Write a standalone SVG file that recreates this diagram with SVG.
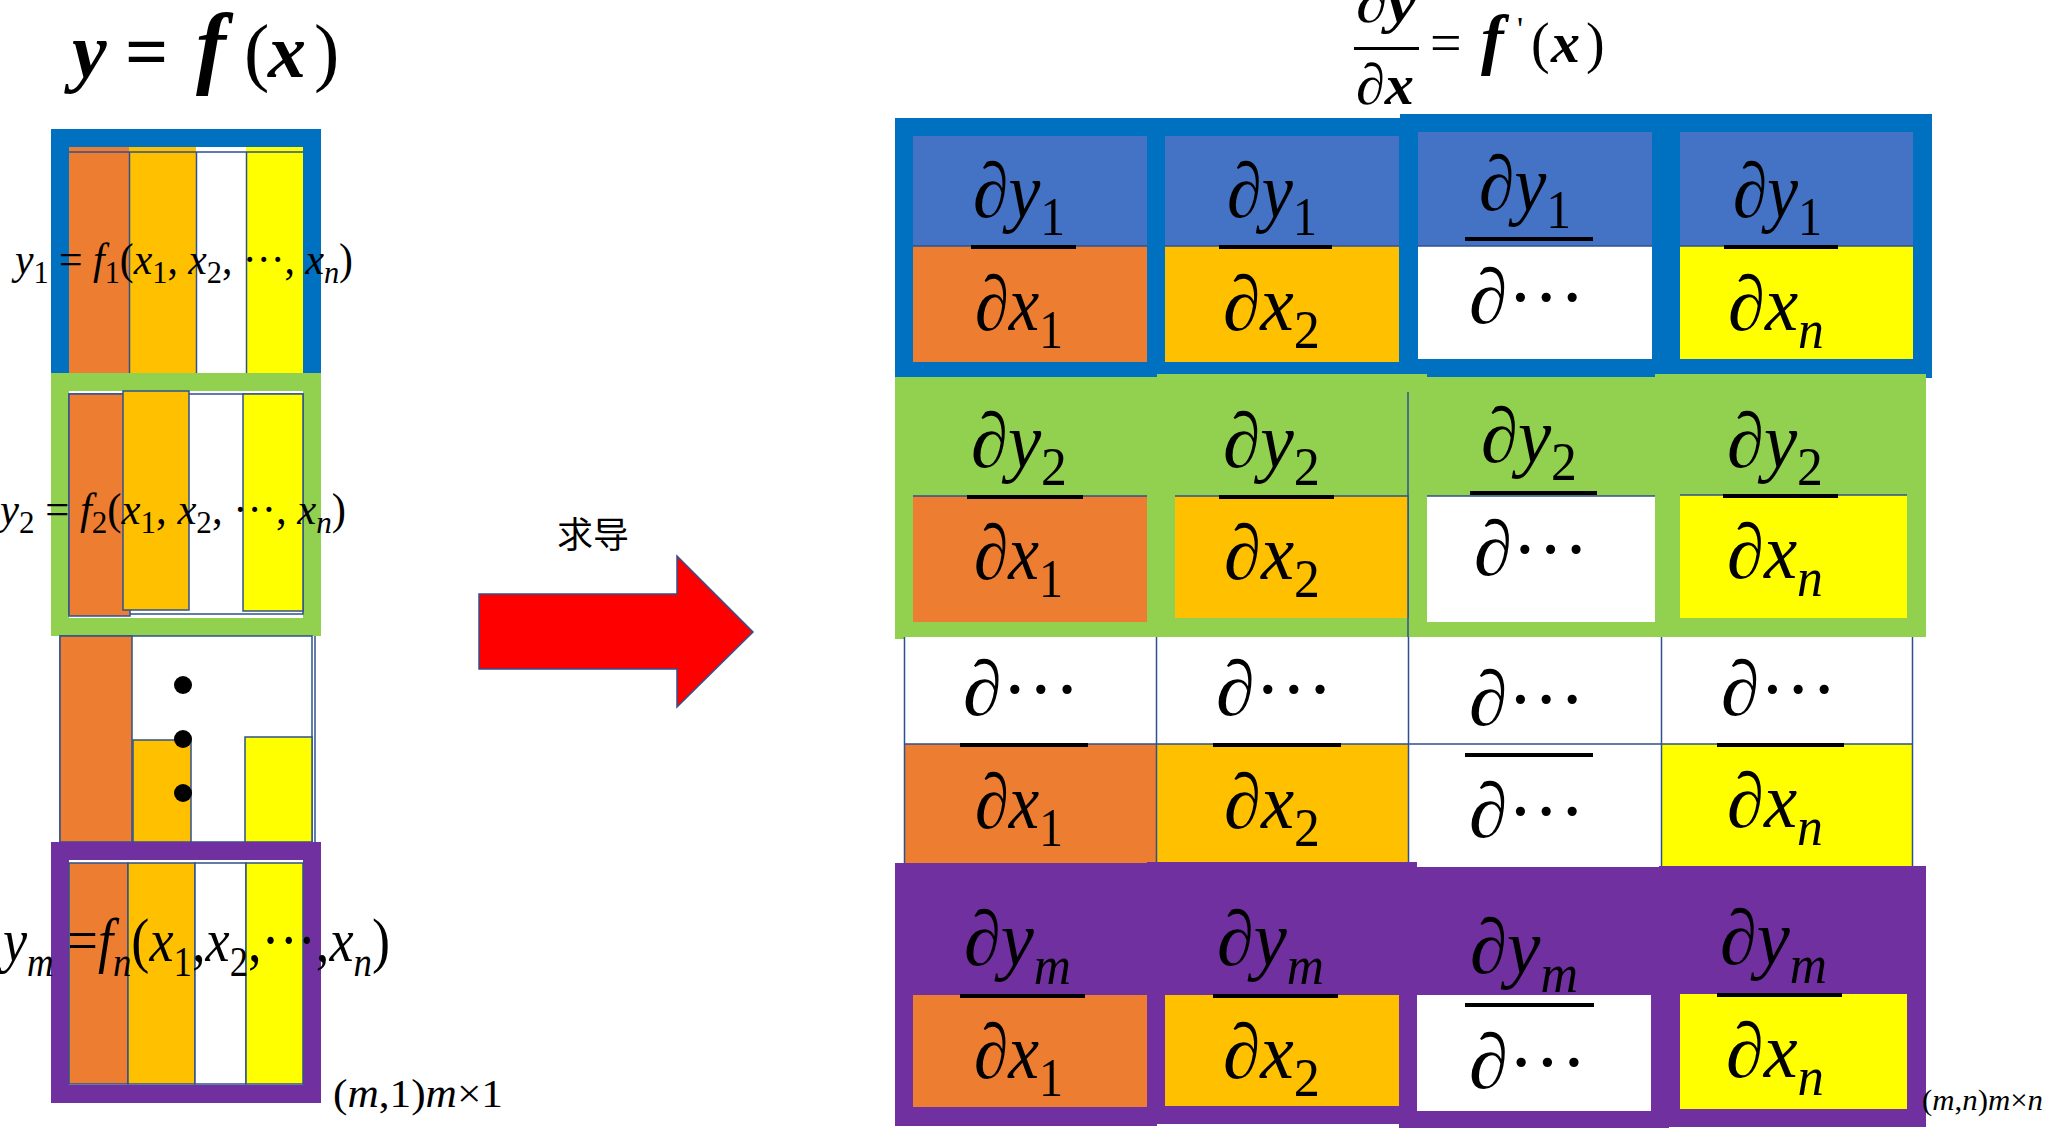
<svg xmlns="http://www.w3.org/2000/svg" width="2048" height="1140" viewBox="0 0 2048 1140">
<style>
.t{font-family:"Liberation Serif","DejaVu Serif",serif;fill:#000}
.fr{font-family:"Liberation Serif","DejaVu Serif",serif;font-size:78px;fill:#000}
.i{font-style:italic}
.b{font-weight:bold}
.sb{font-size:54px}
.ln{stroke:#2F528F;stroke-width:1.5;fill:none}
.o{fill:#ED7D31}.oy{fill:#FFC000}.ye{fill:#FFFF00}.wh{fill:#FFFFFF}.bt{fill:#4472C4}
.fb{fill:#0070C0}.fg{fill:#92D050}.fp{fill:#7030A0}
.bar{fill:#000}
</style>
<rect width="2048" height="1140" fill="#FFFFFF"/>

<!-- Titles -->
<g id="title-left">
<text class="t i b" x="72" y="77" font-size="78">y</text>
<text class="t b" x="125" y="77" font-size="76">=</text>
<text class="t i b" x="196" y="77" font-size="90">f</text>
<text class="t" x="244" y="77" font-size="76">(</text>
<text class="t i b" x="268" y="77" font-size="76">x</text>
<text class="t" x="314" y="77" font-size="76">)</text>
</g>
<g id="title-right">
<text class="t" x="1356" y="22" font-size="58" textLength="60" lengthAdjust="spacingAndGlyphs">∂<tspan class="i b">y</tspan></text>
<rect class="bar" x="1354" y="47" width="65" height="3"/>
<text class="t" x="1356" y="104" font-size="58" textLength="58" lengthAdjust="spacingAndGlyphs">∂<tspan class="i b">x</tspan></text>
<text class="t" x="1430" y="62" font-size="56">=</text>
<text class="t i b" x="1481" y="62" font-size="68">f</text>
<text class="t" x="1517" y="40" font-size="34">'</text>
<text class="t" x="1531" y="62" font-size="56">(</text>
<text class="t i b" x="1551" y="62" font-size="58">x</text>
<text class="t" x="1586" y="62" font-size="56">)</text>
</g>

<!-- Left column: y = f(x) vector -->
<g id="row-y1">
<rect class="fb" x="51" y="129" width="270" height="244"/>
<rect class="o" x="69" y="147" width="60" height="226"/>
<rect class="oy" x="129" y="147" width="67" height="226"/>
<rect class="wh" x="196" y="147" width="50" height="226"/>
<rect class="ye" x="246" y="147" width="57" height="226"/>
<path class="ln" d="M69 152H303M129.5 152V373M196.5 152V373M246.5 152V373"/>
<text class="t" x="15" y="274" font-size="44" textLength="338" lengthAdjust="spacingAndGlyphs"><tspan class="i">y</tspan><tspan font-size="32" dy="9">1</tspan><tspan dy="-9"> = </tspan><tspan class="i">f</tspan><tspan font-size="32" dy="9">1</tspan><tspan dy="-9">(</tspan><tspan class="i">x</tspan><tspan font-size="32" dy="9">1</tspan><tspan dy="-9">, </tspan><tspan class="i">x</tspan><tspan font-size="32" dy="9">2</tspan><tspan dy="-9">, ···, </tspan><tspan class="i">x</tspan><tspan class="i" font-size="32" dy="9">n</tspan><tspan dy="-9">)</tspan></text>
</g>

<g id="row-y2">
<rect class="fg" x="51" y="373" width="270" height="263"/>
<rect class="wh" x="69" y="391" width="234" height="227"/>
<rect class="wh ln" x="69" y="394" width="234" height="220"/>
<rect class="o ln" x="69" y="394" width="61" height="222"/>
<rect class="oy ln" x="123" y="391" width="66" height="219"/>
<rect class="ye ln" x="243" y="394" width="60" height="217"/>
<text class="t" x="0" y="524" font-size="44" textLength="346" lengthAdjust="spacingAndGlyphs"><tspan class="i">y</tspan><tspan font-size="32" dy="9">2</tspan><tspan dy="-9"> = </tspan><tspan class="i">f</tspan><tspan font-size="32" dy="9">2</tspan><tspan dy="-9">(</tspan><tspan class="i">x</tspan><tspan font-size="32" dy="9">1</tspan><tspan dy="-9">, </tspan><tspan class="i">x</tspan><tspan font-size="32" dy="9">2</tspan><tspan dy="-9">, ···, </tspan><tspan class="i">x</tspan><tspan class="i" font-size="32" dy="9">n</tspan><tspan dy="-9">)</tspan></text>
</g>

<g id="row-dots">
<rect class="wh ln" x="60" y="636" width="252" height="206"/>
<path class="ln" d="M315 636V842"/>
<rect class="o ln" x="60" y="636" width="72" height="206"/>
<rect class="oy ln" x="133" y="740" width="58" height="102"/>
<rect class="ye ln" x="245" y="737" width="67" height="105"/>
<circle cx="183" cy="685" r="9" fill="#000"/>
<circle cx="183" cy="739" r="9" fill="#000"/>
<circle cx="183" cy="793" r="9" fill="#000"/>
</g>

<g id="row-ym">
<rect class="fp" x="51" y="842" width="270" height="261"/>
<rect class="wh" x="69" y="860" width="234" height="225"/>
<rect class="o ln" x="69" y="863" width="59" height="221"/>
<rect class="oy ln" x="128" y="863" width="67" height="221"/>
<rect class="wh ln" x="195" y="863" width="51" height="221"/>
<rect class="ye ln" x="246" y="863" width="57" height="221"/>
<text class="t" x="3" y="961" font-size="62" textLength="387" lengthAdjust="spacingAndGlyphs"><tspan class="i">y</tspan><tspan class="i" font-size="42" dy="15">m</tspan><tspan dy="-15"> =</tspan><tspan class="i">f</tspan><tspan class="i" font-size="42" dy="15">n</tspan><tspan dy="-15">(</tspan><tspan class="i">x</tspan><tspan font-size="42" dy="15">1</tspan><tspan dy="-15">,</tspan><tspan class="i">x</tspan><tspan font-size="42" dy="15">2</tspan><tspan dy="-15">,···,</tspan><tspan class="i">x</tspan><tspan class="i" font-size="42" dy="15">n</tspan><tspan dy="-15">)</tspan></text>
</g>
<text class="t" x="333" y="1107" font-size="40" textLength="170" lengthAdjust="spacingAndGlyphs">(<tspan class="i">m</tspan>,1)<tspan class="i">m</tspan>×1</text>

<!-- Connector -->
<g id="connectors">
<polygon points="479,594 677,594 677,556 753,632 677,707 677,669 479,669" fill="#FF0000" stroke="#2F528F" stroke-width="1.5"/>
<text x="557" y="548" font-family="'Noto Sans CJK SC','Noto Sans CJK JP',sans-serif" font-size="36" fill="#000">求导</text>
</g>

<!-- Jacobian backgrounds -->
<g id="row1-frame">
<rect class="fb" x="895" y="118" width="505" height="260"/>
<rect class="fb" x="1400" y="114" width="532" height="264"/>
</g>
<g id="row2-frame">
<rect class="fg" x="895" y="377" width="262" height="262"/>
<rect class="fg" x="1157" y="374" width="270" height="263"/>
<rect class="fg" x="1427" y="377" width="228" height="262"/>
<rect class="fg" x="1655" y="374" width="271" height="263"/>
<path class="ln" d="M1408 392V637"/>
</g>
<g id="row3-grid">
<rect class="wh" x="904" y="637" width="1009" height="226"/>
<rect class="o" x="904" y="744" width="252" height="119"/>
<rect class="oy" x="1156" y="744" width="252" height="118"/>
<rect class="ye" x="1661" y="744" width="252" height="122"/>
<path class="ln" d="M904 744H1913M904.5 637V863M1156.5 637V863M1408.5 637V863M1661.5 637V866M1912.5 637V866"/>
</g>
<g id="row4-frame">
<rect class="fp" x="895" y="863" width="262" height="263"/>
<rect class="fp" x="1147" y="862" width="270" height="262"/>
<rect class="fp" x="1399" y="867" width="270" height="261"/>
<rect class="fp" x="1659" y="866" width="267" height="261"/>
</g>

<!-- Row 1 cells -->
<g id="cell-1-1">
<rect class="bt" x="913" y="136" width="234" height="110"/>
<text class="fr" x="973" y="217" textLength="92" lengthAdjust="spacingAndGlyphs">∂<tspan class="i">y</tspan><tspan class="sb" dy="18">1</tspan></text>
<rect class="o" x="913" y="246" width="234" height="116"/>
<path class="ln" d="M913 246H1147"/>
<rect class="bar" x="971" y="245" width="105" height="4"/>
<text class="fr" x="975" y="330" textLength="88" lengthAdjust="spacingAndGlyphs">∂<tspan class="i">x</tspan><tspan class="sb" dy="18">1</tspan></text>
</g>
<g id="cell-1-2">
<rect class="bt" x="1165" y="136" width="234" height="110"/>
<text class="fr" x="1227" y="217" textLength="90" lengthAdjust="spacingAndGlyphs">∂<tspan class="i">y</tspan><tspan class="sb" dy="18">1</tspan></text>
<rect class="oy" x="1165" y="246" width="234" height="116"/>
<path class="ln" d="M1165 246H1399"/>
<rect class="bar" x="1219" y="245" width="113" height="4"/>
<text class="fr" x="1223" y="330" textLength="97" lengthAdjust="spacingAndGlyphs">∂<tspan class="i">x</tspan><tspan class="sb" dy="18">2</tspan></text>
</g>
<g id="cell-1-3">
<rect class="bt" x="1418" y="132" width="234" height="114"/>
<text class="fr" x="1479" y="210" textLength="92" lengthAdjust="spacingAndGlyphs">∂<tspan class="i">y</tspan><tspan class="sb" dy="18">1</tspan></text>
<rect class="wh" x="1418" y="246" width="234" height="113"/>
<path class="ln" d="M1418 246H1652"/>
<rect class="bar" x="1465" y="237" width="128" height="4"/>
<text class="fr" x="1469" y="323" textLength="116" lengthAdjust="spacingAndGlyphs">∂···</text>
</g>
<g id="cell-1-4">
<rect class="bt" x="1680" y="132" width="233" height="114"/>
<text class="fr" x="1733" y="217" textLength="89" lengthAdjust="spacingAndGlyphs">∂<tspan class="i">y</tspan><tspan class="sb" dy="18">1</tspan></text>
<rect class="ye" x="1680" y="246" width="233" height="113"/>
<path class="ln" d="M1680 246H1913"/>
<rect class="bar" x="1724" y="245" width="114" height="4"/>
<text class="fr" x="1728" y="330" textLength="96" lengthAdjust="spacingAndGlyphs">∂<tspan class="i">x</tspan><tspan class="sb i" dy="18">n</tspan></text>
</g>

<!-- Row 2 cells -->
<g id="cell-2-1">
<text class="fr" x="971" y="467" textLength="96" lengthAdjust="spacingAndGlyphs">∂<tspan class="i">y</tspan><tspan class="sb" dy="18">2</tspan></text>
<rect class="o" x="913" y="496" width="234" height="126"/>
<path class="ln" d="M913 496H1147"/>
<rect class="bar" x="967" y="495" width="116" height="4"/>
<text class="fr" x="974" y="579" textLength="89" lengthAdjust="spacingAndGlyphs">∂<tspan class="i">x</tspan><tspan class="sb" dy="18">1</tspan></text>
</g>
<g id="cell-2-2">
<text class="fr" x="1223" y="467" textLength="97" lengthAdjust="spacingAndGlyphs">∂<tspan class="i">y</tspan><tspan class="sb" dy="18">2</tspan></text>
<rect class="oy" x="1175" y="496" width="233" height="122"/>
<path class="ln" d="M1175 496H1408V618"/>
<rect class="bar" x="1219" y="495" width="115" height="4"/>
<text class="fr" x="1224" y="579" textLength="96" lengthAdjust="spacingAndGlyphs">∂<tspan class="i">x</tspan><tspan class="sb" dy="18">2</tspan></text>
</g>
<g id="cell-2-3">
<text class="fr" x="1481" y="462" textLength="96" lengthAdjust="spacingAndGlyphs">∂<tspan class="i">y</tspan><tspan class="sb" dy="18">2</tspan></text>
<rect class="wh" x="1427" y="496" width="228" height="126"/>
<path class="ln" d="M1427 496H1655"/>
<rect class="bar" x="1470" y="491" width="127" height="4"/>
<text class="fr" x="1474" y="575" textLength="115" lengthAdjust="spacingAndGlyphs">∂···</text>
</g>
<g id="cell-2-4">
<text class="fr" x="1727" y="467" textLength="96" lengthAdjust="spacingAndGlyphs">∂<tspan class="i">y</tspan><tspan class="sb" dy="18">2</tspan></text>
<rect class="ye" x="1680" y="495" width="227" height="123"/>
<path class="ln" d="M1680 495H1907"/>
<rect class="bar" x="1723" y="494" width="115" height="4"/>
<text class="fr" x="1727" y="578" textLength="96" lengthAdjust="spacingAndGlyphs">∂<tspan class="i">x</tspan><tspan class="sb i" dy="18">n</tspan></text>
</g>

<!-- Row 3 cells -->
<g id="cell-3-1">
<text class="fr" x="963" y="715" textLength="117" lengthAdjust="spacingAndGlyphs">∂···</text>
<rect class="bar" x="960" y="743" width="128" height="4"/>
<text class="fr" x="975" y="828" textLength="88" lengthAdjust="spacingAndGlyphs">∂<tspan class="i">x</tspan><tspan class="sb" dy="18">1</tspan></text>
</g>
<g id="cell-3-2">
<text class="fr" x="1216" y="715" textLength="117" lengthAdjust="spacingAndGlyphs">∂···</text>
<rect class="bar" x="1213" y="743" width="128" height="4"/>
<text class="fr" x="1224" y="828" textLength="96" lengthAdjust="spacingAndGlyphs">∂<tspan class="i">x</tspan><tspan class="sb" dy="18">2</tspan></text>
</g>
<g id="cell-3-3">
<text class="fr" x="1469" y="725" textLength="116" lengthAdjust="spacingAndGlyphs">∂···</text>
<rect class="bar" x="1465" y="753" width="128" height="4"/>
<text class="fr" x="1469" y="837" textLength="116" lengthAdjust="spacingAndGlyphs">∂···</text>
</g>
<g id="cell-3-4">
<text class="fr" x="1721" y="715" textLength="116" lengthAdjust="spacingAndGlyphs">∂···</text>
<rect class="bar" x="1717" y="743" width="127" height="4"/>
<text class="fr" x="1727" y="827" textLength="96" lengthAdjust="spacingAndGlyphs">∂<tspan class="i">x</tspan><tspan class="sb i" dy="18">n</tspan></text>
</g>

<!-- Row 4 cells -->
<g id="cell-4-1">
<text class="fr" x="964" y="965" textLength="107" lengthAdjust="spacingAndGlyphs">∂<tspan class="i">y</tspan><tspan class="sb i" dy="19">m</tspan></text>
<rect class="o" x="913" y="995" width="234" height="112"/>
<rect class="bar" x="960" y="994" width="125" height="4"/>
<text class="fr" x="974" y="1078" textLength="89" lengthAdjust="spacingAndGlyphs">∂<tspan class="i">x</tspan><tspan class="sb" dy="18">1</tspan></text>
</g>
<g id="cell-4-2">
<text class="fr" x="1217" y="965" textLength="107" lengthAdjust="spacingAndGlyphs">∂<tspan class="i">y</tspan><tspan class="sb i" dy="19">m</tspan></text>
<rect class="oy" x="1165" y="995" width="234" height="111"/>
<rect class="bar" x="1213" y="994" width="125" height="4"/>
<text class="fr" x="1223" y="1078" textLength="97" lengthAdjust="spacingAndGlyphs">∂<tspan class="i">x</tspan><tspan class="sb" dy="18">2</tspan></text>
</g>
<g id="cell-4-3">
<text class="fr" x="1470" y="973" textLength="108" lengthAdjust="spacingAndGlyphs">∂<tspan class="i">y</tspan><tspan class="sb i" dy="19">m</tspan></text>
<rect class="wh" x="1417" y="995" width="234" height="116"/>
<rect class="bar" x="1465" y="1003" width="129" height="4"/>
<text class="fr" x="1469" y="1088" textLength="118" lengthAdjust="spacingAndGlyphs">∂···</text>
</g>
<g id="cell-4-4">
<text class="fr" x="1720" y="964" textLength="107" lengthAdjust="spacingAndGlyphs">∂<tspan class="i">y</tspan><tspan class="sb i" dy="19">m</tspan></text>
<rect class="ye" x="1680" y="994" width="227" height="115"/>
<rect class="bar" x="1717" y="993" width="125" height="4"/>
<text class="fr" x="1726" y="1077" textLength="98" lengthAdjust="spacingAndGlyphs">∂<tspan class="i">x</tspan><tspan class="sb i" dy="18">n</tspan></text>
</g>
<text class="t" x="1922" y="1110" font-size="30" textLength="121" lengthAdjust="spacingAndGlyphs">(<tspan class="i">m</tspan>,<tspan class="i">n</tspan>)<tspan class="i">m</tspan>×<tspan class="i">n</tspan></text>
</svg>
